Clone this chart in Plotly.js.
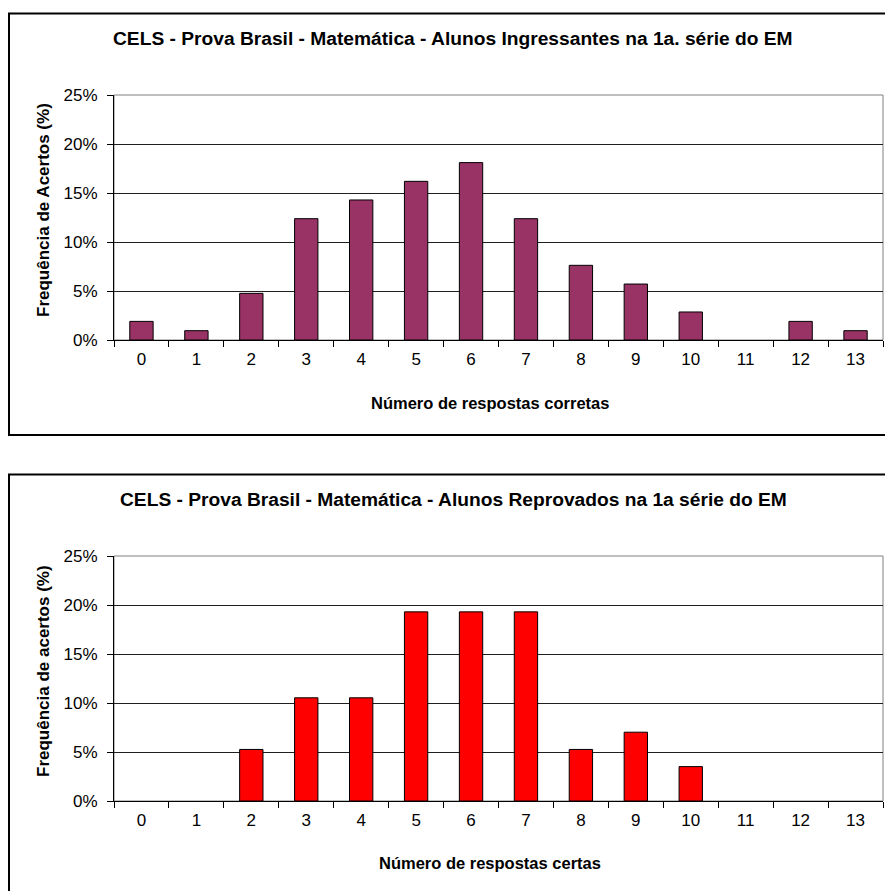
<!DOCTYPE html>
<html>
<head>
<meta charset="utf-8">
<script src="https://cdn.plot.ly/plotly-3.0.1.min.js"></script>
<style>
html,body{margin:0;padding:0;background:#fff;}
#chart{width:885px;height:891px;}
</style>
</head>
<body>
<div id="chart"></div>
<script>
// ---- data ----
const categories = ["0","1","2","3","4","5","6","7","8","9","10","11","12","13"];
const ingressantesPct = [1.90, 0.95, 4.76, 12.38, 14.29, 16.19, 18.10, 12.38, 7.62, 5.71, 2.86, 0, 1.90, 0.95];
const reprovadosPct   = [0, 0, 5.26, 10.53, 10.53, 19.30, 19.30, 19.30, 5.26, 7.02, 3.51, 0, 0, 0];
const yTickVals = [0, 5, 10, 15, 20, 25];
const yTickText = ["0%", "5%", "10%", "15%", "20%", "25%"];
const titleTop = "CELS - Prova Brasil - Matemática - Alunos Ingressantes na 1a. série do EM";
const titleBottom = "CELS - Prova Brasil - Matemática - Alunos Reprovados na 1a série do EM";
const yTitleTop = "Frequência de Acertos (%)";
const yTitleBottom = "Frequência de acertos (%)";
const xTitleTop = "Número de respostas corretas";
const xTitleBottom = "Número de respostas certas";

// ---- layout helpers ----
const W = 885, H = 891;
const px = v => v / W;
const py = v => 1 - v / H;
const FONT = "Liberation Sans, Arial, sans-serif";
const outline = vals => vals.map(v => (v > 0 ? 1 : 0));

const traces = [
  {type: "bar", x: categories, y: ingressantesPct, xaxis: "x", yaxis: "y",
   marker: {color: "#993366", line: {color: "#000000", width: outline(ingressantesPct)}}, hoverinfo: "x+y"},
  {type: "bar", x: categories, y: reprovadosPct, xaxis: "x2", yaxis: "y2",
   marker: {color: "#FF0000", line: {color: "#000000", width: outline(reprovadosPct)}}, hoverinfo: "x+y"}
];

function xAxis(anchor) {
  return {
    domain: [px(114), px(883)], anchor: anchor, type: "category",
    range: [-0.5, 13.5], tickson: "boundaries",
    ticks: "outside", ticklen: 6, tickcolor: "#000", tickwidth: 1,
    showline: true, linecolor: "#000", linewidth: 1,
    showgrid: false, zeroline: false, fixedrange: true,
    tickfont: {family: FONT, size: 17, color: "#000"},
    ticklabelstandoff: 4
  };
}
function yAxis(anchor, top, bottom) {
  return {
    domain: [py(bottom), py(top)], anchor: anchor,
    range: [0, 25], tickvals: yTickVals, ticktext: yTickText,
    ticks: "outside", ticklen: 6, tickcolor: "#000", tickwidth: 1,
    showline: true, linecolor: "#000", linewidth: 1,
    showgrid: true, gridcolor: "#202020", gridwidth: 1,
    zeroline: false, fixedrange: true,
    tickfont: {family: FONT, size: 17, color: "#000"},
    ticklabelstandoff: 6
  };
}

const layout = {
  width: W, height: H,
  margin: {l: 0, r: 0, t: 0, b: 0},
  paper_bgcolor: "#ffffff", plot_bgcolor: "#ffffff",
  showlegend: false, bargap: 0.575,
  font: {family: FONT, color: "#000"},
  xaxis: xAxis("y"),
  yaxis: yAxis("x", 95, 340),
  xaxis2: xAxis("y2"),
  yaxis2: yAxis("x2", 556, 801),
  shapes: [
    {type: "rect", xref: "paper", yref: "paper", x0: px(9), x1: 1.02, y0: py(435), y1: py(13.5),
     line: {color: "#000", width: 2}, fillcolor: "rgba(0,0,0,0)", layer: "below"},
    {type: "rect", xref: "paper", yref: "paper", x0: px(9), x1: 1.02, y0: -0.05, y1: py(474.5),
     line: {color: "#000", width: 2}, fillcolor: "rgba(0,0,0,0)", layer: "below"},
    {type: "rect", xref: "x domain", yref: "y domain", x0: 0, x1: 1, y0: 0, y1: 1,
     line: {color: "#808080", width: 1}, layer: "below"},
    {type: "rect", xref: "x2 domain", yref: "y2 domain", x0: 0, x1: 1, y0: 0, y1: 1,
     line: {color: "#808080", width: 1}, layer: "below"}
  ],
  annotations: [
    {text: "<b>" + titleTop + "</b>", xref: "paper", yref: "paper", x: px(453), y: py(38),
     xanchor: "center", yanchor: "middle", showarrow: false, font: {family: FONT, size: 19.2, color: "#000"}},
    {text: "<b>" + titleBottom + "</b>", xref: "paper", yref: "paper", x: px(453), y: py(499),
     xanchor: "center", yanchor: "middle", showarrow: false, font: {family: FONT, size: 19.2, color: "#000"}},
    {text: "<b>" + yTitleTop + "</b>", xref: "paper", yref: "paper", x: px(43), y: py(210),
     xanchor: "center", yanchor: "middle", textangle: -90, showarrow: false, font: {family: FONT, size: 17, color: "#000"}},
    {text: "<b>" + yTitleBottom + "</b>", xref: "paper", yref: "paper", x: px(43), y: py(671),
     xanchor: "center", yanchor: "middle", textangle: -90, showarrow: false, font: {family: FONT, size: 17, color: "#000"}},
    {text: "<b>" + xTitleTop + "</b>", xref: "paper", yref: "paper", x: px(490), y: py(403),
     xanchor: "center", yanchor: "middle", showarrow: false, font: {family: FONT, size: 16.5, color: "#000"}},
    {text: "<b>" + xTitleBottom + "</b>", xref: "paper", yref: "paper", x: px(490), y: py(863),
     xanchor: "center", yanchor: "middle", showarrow: false, font: {family: FONT, size: 16.5, color: "#000"}}
  ]
};

Plotly.newPlot("chart", traces, layout, {displayModeBar: false, staticPlot: true});
</script>
</body>
</html>
